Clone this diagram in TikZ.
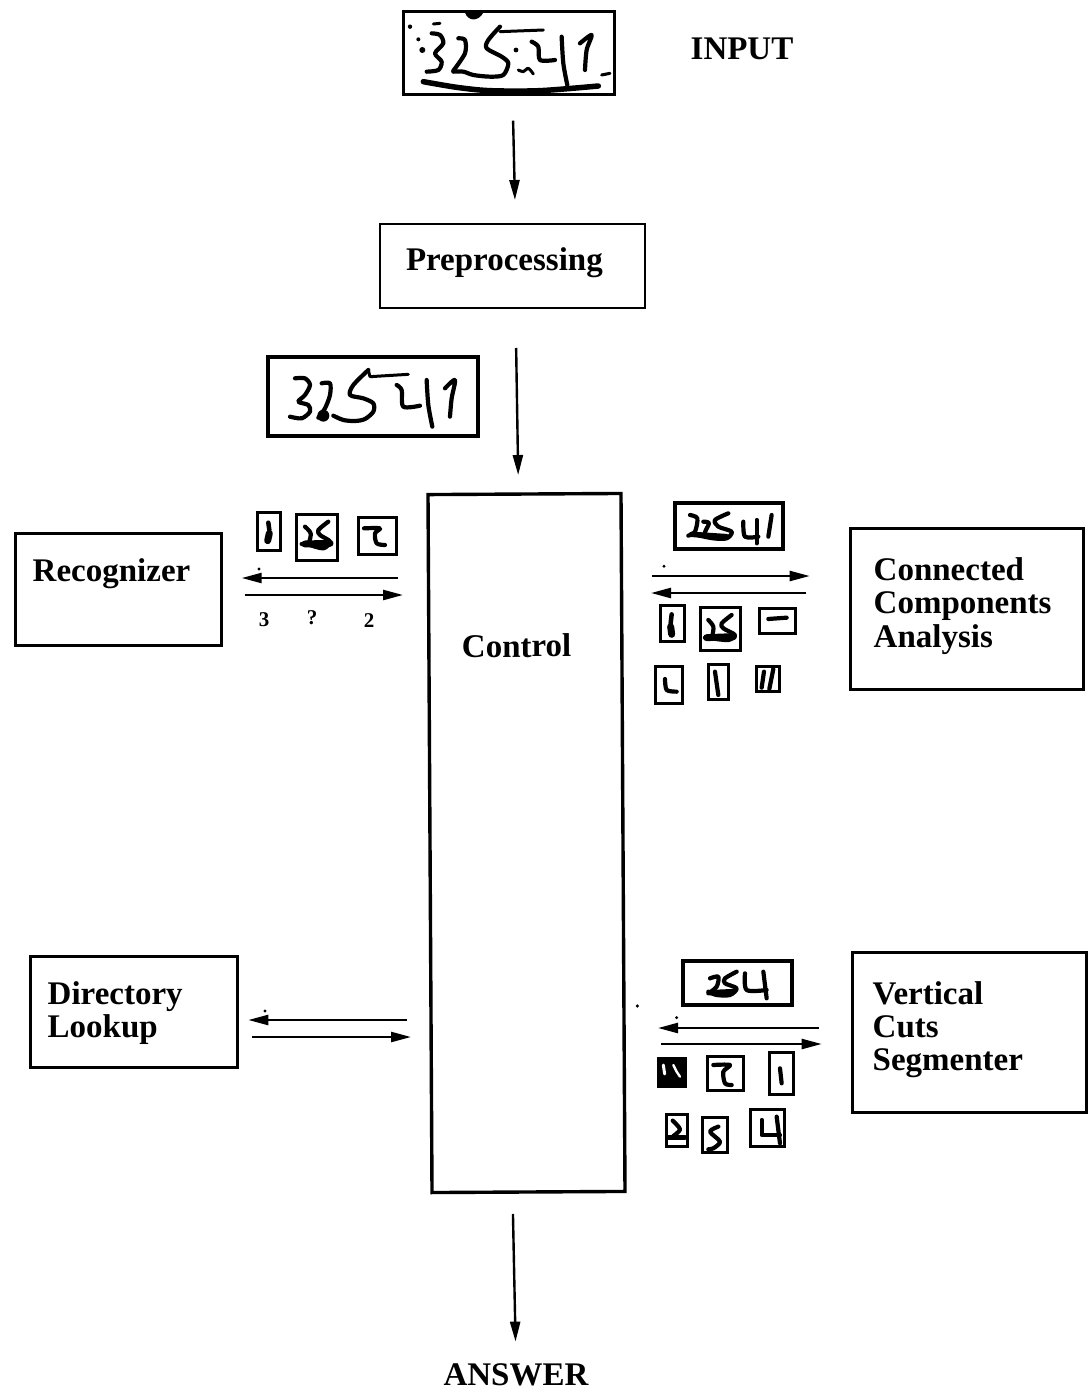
\documentclass[tikz,border=0pt]{standalone}
\usepackage{fontspec}
\setmainfont{Liberation Serif}
\usetikzlibrary{arrows.meta}

\begin{document}
\begin{tikzpicture}[x=1pt,y=-1pt,
	box/.style={draw,anchor=north west,line width=3.4pt,outer sep=0pt,inner ysep=0pt,align=left,font=\fontsize{33}{33.2}\selectfont\bfseries},
	caption/.style={inner sep=0pt,font=\fontsize{33}{33.2}\selectfont\bfseries},
	score/.style={inner sep=0pt,font=\fontsize{21}{21}\selectfont\bfseries},
	flow/.style={-{Triangle[length=20pt,width=10pt]},line width=2.4pt},
	ink/.style={line width=4.2pt,line cap=round,line join=round},
	blob/.style={line width=7pt,line cap=round,line join=round},
	thumb/.style={line width=3pt},
	frame/.style={line width=3.8pt},
	zoomed/.style={x=0.3333pt,y=-0.3333pt}]
	\useasboundingbox (0,0) rectangle (1092,1393);

	% boxes
	\node [box,minimum width=211pt,minimum height=83pt,line width=3.5pt] (input) at (403.7,11.7) {};
	\node [box,line width=2.4pt,inner xsep=26pt,text width=213pt,text height=46pt,text depth=38pt] (prep) at (380,224) {Preprocessing};
	\node [box,minimum width=210pt,minimum height=79pt,line width=4pt] (clean) at (268,357) {};
	\node [box,anchor=center,rotate=0.33,inner xsep=33pt,text width=127pt,text height=163pt,text depth=535pt] (control) at (526.5,843) {Control};
	\node [box,inner xsep=17pt,text width=172pt,text height=47.5pt,text depth=64.5pt] (recog) at (15.7,533.7) {Recognizer};
	\node [box,inner xsep=23pt,text width=186.6pt,text height=52pt,text depth=109pt] (comps) at (850.7,528.7) {Connected\\Components\\Analysis};
	\node [box,inner xsep=17pt,text width=172.6pt,text height=47.5pt,text depth=63pt] (lookup) at (30.7,956.7) {Directory\\Lookup};
	\node [box,inner xsep=20pt,text width=193.6pt,text height=51.5pt,text depth=108pt] (vcuts) at (852.7,952.7) {Vertical\\Cuts\\Segmenter};

	\node [caption] (inlabel) at (742,49) {INPUT};
	\node [caption] (answer) at (516,1375) {ANSWER};
	\node [score] (s1) at (264,620) {3};
	\node [score] (s2) at (312,618) {?};
	\node [score] (s3) at (369,621) {2};

	% connectors
	\coordinate (rectop) at (0,578);
	\coordinate (recbot) at (0,595);
	\coordinate (comptop) at (0,576);
	\coordinate (compbot) at (0,593);
	\coordinate (looktop) at (0,1020);
	\coordinate (lookbot) at (0,1037);
	\coordinate (cuttop) at (0,1028);
	\coordinate (cutbot) at (0,1044);

	\draw [flow,shorten <=26pt,shorten >=24pt] ([xshift=3.3pt]input.south) -- ([xshift=3pt]prep.north);
	\draw [flow,shorten <=40pt,shorten >=19pt] ([xshift=3pt]prep.south) -- ([xshift=-6pt]control.north);
	\draw [flow,shorten <=22pt,shorten >=22pt] ([xshift=-16pt]control.south) -- (answer.north);

	\draw [flow,shorten <=32pt,shorten >=20pt] (control.west |- rectop) -- (recog.east |- rectop);
	\draw [flow,shorten <=23pt,shorten >=27pt] (recog.east |- recbot) -- (control.west |- recbot);
	\draw [flow,shorten <=29pt,shorten >=41pt] (control.east |- comptop) -- (comps.west |- comptop);
	\draw [flow,shorten <=45pt,shorten >=28pt] (comps.west |- compbot) -- (control.east |- compbot);
	\draw [flow,shorten <=23pt,shorten >=11pt] (control.west |- looktop) -- (lookup.east |- looktop);
	\draw [flow,shorten <=15pt,shorten >=19pt] (lookup.east |- lookbot) -- (control.west |- lookbot);
	\draw [flow,shorten <=34pt,shorten >=35pt] (vcuts.west |- cuttop) -- (control.east |- cuttop);
	\draw [flow,shorten <=38pt,shorten >=31pt] (control.east |- cutbot) -- (vcuts.west |- cutbot);

	% raw input
	\begin{scope}[shift={(390,0)},zoomed]
		\fill (225,38) .. controls (235,65) and (265,65) .. (280,38);
		\draw [ink] plot [smooth] coordinates {(125,100) (150,105) (160,130) (135,160) (155,185) (145,210) (110,215)};
		\draw [ink] plot [smooth] coordinates {(205,115) (225,120) (225,160) (190,212)};
		\draw [ink] plot [smooth] coordinates {(330,80) (295,120) (290,145) (335,170) (355,190) (340,225) (300,230) (250,225) (220,215) (190,215)};
		\draw [ink,line width=3pt] (330,95) -- (460,90);
		\draw [ink] plot [smooth] coordinates {(425,125) (445,140) (450,180) (495,180)};
		\draw [ink] plot [smooth] coordinates {(515,110) (520,190) (532,255)};
		\draw [ink] plot [smooth] coordinates {(570,130) (605,105) (590,150) (585,210)};
		\draw [ink,line width=3pt] plot [smooth] coordinates {(385,210) (400,215) (415,205) (430,222)};
		\draw [ink,line width=3pt] (635,225) -- (660,220);
		\draw [ink,line width=3pt] (130,72) -- (150,70);
		\fill (60,80) circle (2.2pt) (85,118) circle (2pt) (97,150) circle (3pt) (378,150) circle (2.4pt);
		\draw [ink,line width=5.5pt] plot [smooth] coordinates {(100,245) (200,262) (300,272) (450,272) (625,258)};
	\end{scope}

	% after preprocessing
	\begin{scope}[shift={(255,345)},zoomed]
		\draw [ink] plot [smooth] coordinates {(120,100) (150,100) (165,120) (150,150) (130,170) (160,180) (165,200) (140,220) (105,215)};
		\draw [ink] plot [smooth] coordinates {(200,115) (225,115) (225,150) (210,190) (190,218)};
		\fill (205,212) circle (6pt);
		\draw [ink] plot [smooth] coordinates {(340,75) (295,120) (285,150) (325,160) (355,175) (355,200) (330,222) (300,228) (265,225) (235,212)};
		\draw [ink,line width=3pt] (340,75) -- (345,95) -- (460,88);
		\draw [ink] plot [smooth] coordinates {(425,120) (440,135) (445,185) (495,182)};
		\draw [ink] plot [smooth] coordinates {(515,105) (520,180) (532,245)};
		\draw [ink] plot [smooth] coordinates {(570,130) (600,105) (590,160) (585,215)};
	\end{scope}

	% recognizer pieces
	\begin{scope}[shift={(240,500)},zoomed]
		\draw [thumb] (52,36) rectangle (122,152);
		\draw [thumb] (170,42) rectangle (292,182);
		\draw [thumb] (357,52) rectangle (470,163);
		\draw [blob,line width=4.5pt] (85,68) -- (88,90);
		\draw [blob] (88,100) -- (83,122);
		\draw [ink] plot [smooth] coordinates {(195,80) (212,100) (205,130) (185,132)};
		\draw [ink] plot [smooth] coordinates {(265,65) (235,90) (240,105) (270,125) (250,145) (210,135)};
		\draw [blob] (195,132) -- (270,130);
		\draw [ink] plot [smooth] coordinates {(372,85) (420,85) (405,100) (410,130) (435,135)};
		\fill (57,207) circle (1.6pt);
	\end{scope}

	% component pieces
	\begin{scope}[shift={(640,495)},zoomed]
		\draw [frame] (105,25) rectangle (430,162);
		\draw [thumb] (60,332) rectangle (132,440);
		\draw [thumb] (180,337) rectangle (303,467);
		\draw [thumb] (360,340) rectangle (468,416);
		\draw [thumb] (45,515) rectangle (128,625);
		\draw [thumb] (205,510) rectangle (265,615);
		\draw [thumb] (350,515) rectangle (418,590);
		\draw [ink] plot [smooth] coordinates {(150,60) (172,70) (165,110) (145,122)};
		\draw [ink] plot [smooth] coordinates {(190,80) (207,85) (195,120) (250,130)};
		\draw [ink] plot [smooth] coordinates {(265,55) (225,75) (235,95) (275,110) (260,130) (220,130) (170,120)};
		\draw [blob,line width=5.5pt] (155,118) -- (260,125);
		\draw [ink] plot [smooth] coordinates {(310,80) (315,125) (355,125)};
		\draw [ink] (350,75) -- (350,145);
		\draw [ink] (395,60) -- (385,125);
		\draw [blob,line width=4.5pt] (95,358) -- (92,385);
		\draw [blob] (92,395) -- (95,418);
		\draw [ink] plot [smooth] coordinates {(205,375) (220,395) (215,425) (195,428)};
		\draw [ink] plot [smooth] coordinates {(275,360) (245,385) (250,400) (285,420) (265,435) (215,430)};
		\draw [blob] (200,428) -- (280,425);
		\draw [ink] (385,372) -- (440,368);
		\draw [ink] plot [smooth] coordinates {(75,552) (80,585) (110,590)};
		\draw [ink] (225,530) -- (235,600);
		\draw [ink] (372,530) -- (365,578);
		\draw [ink] (400,522) -- (388,582);
		\fill (72,214) circle (1.6pt);
	\end{scope}

	% segmenter pieces
	\begin{scope}[shift={(630,950)},zoomed]
		\draw [frame] (160,33) rectangle (485,165);
		\fill [draw,thumb] (85,325) rectangle (165,410);
		\draw [thumb] (232,318) rectangle (342,422);
		\draw [thumb] (420,308) rectangle (492,435);
		\draw [thumb] (108,495) rectangle (172,590);
		\draw [thumb] (218,503) rectangle (292,607);
		\draw [thumb] (363,480) rectangle (463,590);
		\draw [ink] plot [smooth] coordinates {(240,85) (265,80) (260,110) (235,130)};
		\draw [ink] plot [smooth] coordinates {(320,65) (285,85) (285,100) (320,115) (300,135) (260,135) (235,125)};
		\draw [blob,line width=5.5pt] (240,128) -- (310,125);
		\draw [ink] plot [smooth] coordinates {(345,70) (350,120) (410,120)};
		\draw [ink] (400,65) -- (410,145);
		\draw [white,ink,line width=3pt] (100,345) -- (104,372);
		\draw [white,ink,line width=2.4pt] (130,345) -- (140,365) -- (150,380);
		\draw [ink] plot [smooth] coordinates {(250,345) (300,345) (280,365) (285,400) (305,405)};
		\draw [ink] (450,355) -- (455,400);
		\draw [ink] plot [smooth] coordinates {(128,512) (150,538) (130,558)};
		\draw [ink,line width=4.5pt] (115,562) -- (165,562);
		\draw [ink] plot [smooth] coordinates {(265,530) (240,545) (270,575) (250,595) (235,598)};
		\draw [ink] (395,510) -- (395,555) -- (450,555);
		\draw [ink] (440,500) -- (450,580);
		\fill (22,168) circle (1.8pt);
		\fill (140,203) circle (1.6pt);
	\end{scope}

	% lookup tick
	\fill (265,1011) circle (1.6pt);
\end{tikzpicture}
\end{document}
